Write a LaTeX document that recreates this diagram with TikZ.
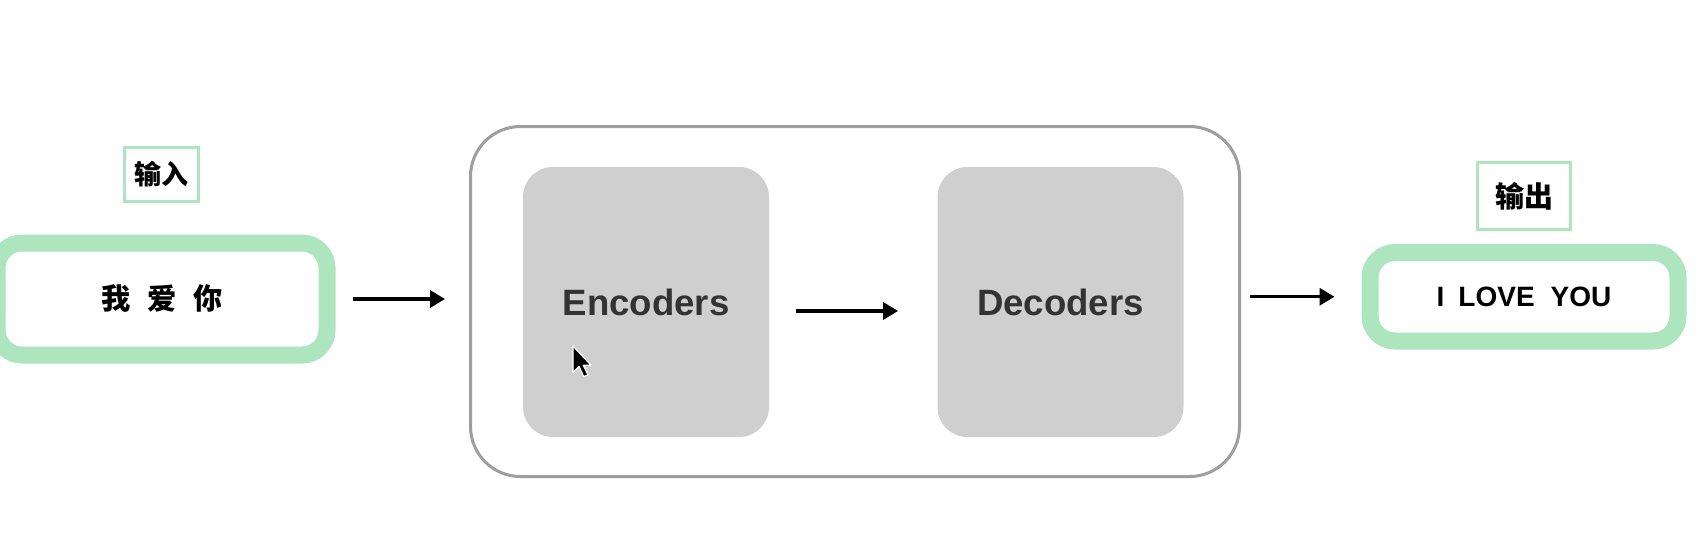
\documentclass[tikz,border=0pt]{standalone}
\usepackage{fontspec}
\setmainfont{Liberation Sans}
\newfontfamily\cjk{Noto Sans CJK SC}
\usetikzlibrary{arrows.meta}
\definecolor{mint}{HTML}{ADE5BF}
\definecolor{frame}{HTML}{9E9E9E}
\definecolor{blockfill}{HTML}{CFCFCF}
\definecolor{blocktext}{HTML}{333333}
\tikzset{
  greenbox/.style={draw=mint, line width=8.5pt, rounded corners=12.5pt, fill=white, inner sep=0pt},
  tagbox/.style={draw=mint, line width=1.5pt, fill=white, inner sep=0pt},
  framebox/.style={draw=frame, line width=1.5pt, rounded corners=25pt, inner sep=0pt},
  block/.style={fill=blockfill, rounded corners=15pt, inner sep=0pt, minimum width=123pt, minimum height=135pt,
    font=\fontsize{18.3}{20}\selectfont\bfseries, text=blocktext},
  arr/.style={line width=1.7pt, -{Triangle[length=7.5pt,width=8.5pt]}}
}
\begin{document}
\begin{tikzpicture}[x=0.5pt,y=-0.5pt]
\useasboundingbox (0,0) rectangle (1704,552);
\fill[white] (0,0) rectangle (1704,552);
% outer frame
\node[framebox, minimum width=384.5pt, minimum height=175pt] (frame) at (855,301.5) {};
% encoder / decoder
\node[block] (enc) at (646,302) {Encoders};
\node[block] (dec) at (1060.5,302) {Decoders};
% input
\node[greenbox, minimum width=165pt, minimum height=56pt, font=\cjk\fontsize{14.6}{16}\selectfont\bfseries] (in) at (162,299) {我\hspace{8.5pt}爱\hspace{8.5pt}你};
\node[tagbox, minimum width=37pt, minimum height=27pt, font=\cjk\fontsize{13.5}{15}\selectfont\bfseries] (inlab) at (161.5,174.5) {输入};
% output
\node[greenbox, minimum width=154pt, minimum height=44.25pt, font=\fontsize{14}{16}\selectfont\bfseries] (out) at (1524,296.75) {I\hspace{7pt}LOVE\hspace{8pt}YOU};
\node[tagbox, minimum width=46.5pt, minimum height=33.5pt, font=\cjk\fontsize{14.5}{16}\selectfont\bfseries] (outlab) at (1524,196) {输出};
% arrows
\draw[arr] ([xshift=8.75pt]in.east) -- ([xshift=-12pt]in.east -| frame.west);
\draw[arr] ([xshift=13.5pt,yshift=-4.5pt]enc.east) -- ([xshift=-19.5pt,yshift=-4.5pt]dec.west);
\draw[arr] ([xshift=4.5pt]out.west -| frame.east) -- ([xshift=-13.5pt]out.west);
% mouse cursor
\coordinate (tip) at (573,346);
\filldraw[fill=black, draw=white, line width=0.6pt, line join=round, shift={(tip)}, scale=1.2]
  (0,0) -- (0,22) -- (5,17) -- (9,25.5) -- (12.5,24) -- (8.5,16) -- (15,16) -- cycle;
\end{tikzpicture}
\end{document}
